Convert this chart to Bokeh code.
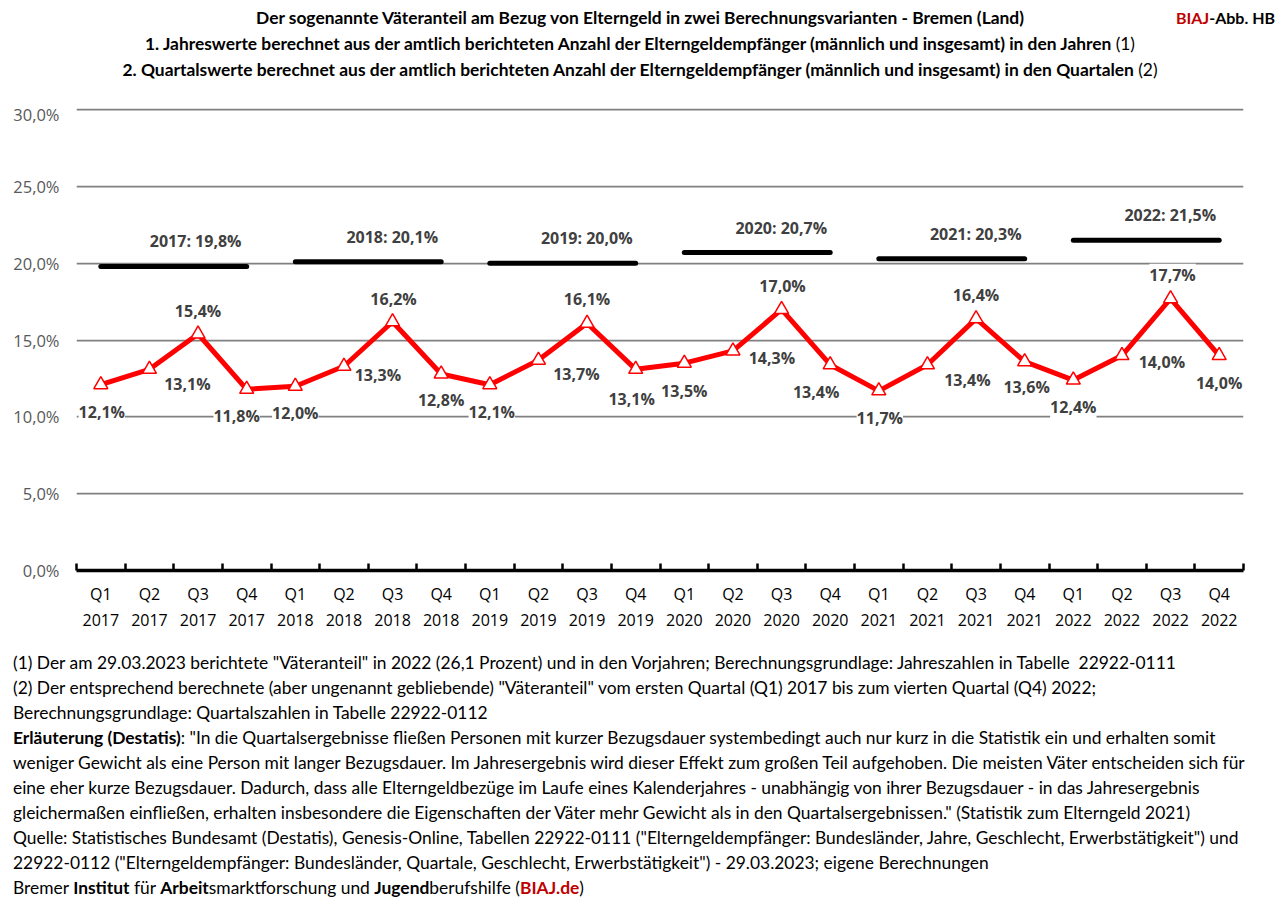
from bokeh.plotting import figure
from bokeh.models import ColumnDataSource, FixedTicker, LabelSet, Div, Range1d
from bokeh.core.properties import value
from bokeh.layouts import column
from bokeh.embed import file_html
from bokeh.resources import INLINE

# ---------------- data ----------------
quarters = ["Q1", "Q2", "Q3", "Q4"] * 6
quarter_years = [2017] * 4 + [2018] * 4 + [2019] * 4 + [2020] * 4 + [2021] * 4 + [2022] * 4
quarter_values = [12.1, 13.1, 15.4, 11.8,
                  12.0, 13.3, 16.2, 12.8,
                  12.1, 13.7, 16.1, 13.1,
                  13.5, 14.3, 17.0, 13.4,
                  11.7, 13.4, 16.4, 13.6,
                  12.4, 14.0, 17.7, 14.0]
years = [2017, 2018, 2019, 2020, 2021, 2022]
annual_values = [19.8, 20.1, 20.0, 20.7, 20.3, 21.5]
y_ticks = [0, 5, 10, 15, 20, 25, 30]

# label placement (screen pixels, style only)
label_dx = [1, 38, 0, -10, 0, 34, 1, 0, 2, 38, 0, -4, 0, 39, 1, -14, 1, 40, 0, 2, 0, 40, 2, 0]
label_dy = [-27, -15, 23, -27, -27, -9, 23, -26, -27, -14, 24, -30, -28, -7, 23, -27, -27, -15, 24, -25, -27, -6, 24, -27]
annual_sep = ["  ", " ", " ", " ", " ", " "]


def de(v):
    return f"{v:.1f}".replace(".", ",") + "%"


FONT = "Open Sans"
LABEL_COLOR = "#404040"

n = len(quarter_values)
xs = list(range(n))

p = figure(width=1270, height=537, output_backend="svg", toolbar_location=None,
           x_range=Range1d(-0.5, n - 0.5), y_range=Range1d(0, 30.15),
           min_border_left=76, min_border_right=27, min_border_top=5, min_border_bottom=69,
           title=None)
p.outline_line_color = None
p.background_fill_color = "white"
p.border_fill_color = "white"

# y axis / grid
p.yaxis.ticker = FixedTicker(ticks=y_ticks)
p.yaxis.major_label_overrides = {t: de(t) for t in y_ticks}
p.yaxis.axis_line_color = None
p.yaxis.major_tick_line_color = None
p.yaxis.minor_tick_line_color = None
p.yaxis.major_label_text_font = FONT
p.yaxis.major_label_text_font_size = "16.5px"
p.yaxis.major_label_text_color = "#595959"
p.yaxis.major_label_standoff = 11
p.ygrid.ticker = FixedTicker(ticks=y_ticks)
p.ygrid.grid_line_color = "#808080"
p.ygrid.grid_line_width = 1.75
p.xgrid.grid_line_color = None

# x axis
p.xaxis.ticker = FixedTicker(ticks=xs, minor_ticks=[i - 0.5 for i in range(n + 1)])
p.xaxis.major_label_overrides = {i: f"{quarters[i]}\n{quarter_years[i]}" for i in xs}
p.xaxis.axis_line_color = "black"
p.xaxis.axis_line_width = 3.5
p.xaxis.major_tick_line_color = None
p.xaxis.minor_tick_line_color = "black"
p.xaxis.minor_tick_line_width = 2.5
p.xaxis.minor_tick_in = 7
p.xaxis.minor_tick_out = 0
p.xaxis.major_label_text_font = FONT
p.xaxis.major_label_text_font_size = "16px"
p.xaxis.major_label_text_color = "black"
p.xaxis.major_label_standoff = 6

# annual segments
x0 = [quarter_years.index(y) for y in years]
x1 = [len(quarter_years) - 1 - quarter_years[::-1].index(y) for y in years]
ann_src = ColumnDataSource(dict(
    x0=x0, x1=x1, y=annual_values,
    xm=[(a + b) / 2 for a, b in zip(x0, x1)],
    text=[f"{y}:{s}{de(v)}" for y, s, v in zip(years, annual_sep, annual_values)],
))
p.segment(x0="x0", y0="y", x1="x1", y1="y", source=ann_src, line_color="black",
          line_width=5, line_cap="round")
p.add_layout(LabelSet(x="xm", y="y", text="text", source=ann_src, x_offset=24, y_offset=25,
                      text_align="center", text_baseline="middle", text_font=value(FONT),
                      text_font_style="bold", text_font_size="16px", text_color=LABEL_COLOR,
                      background_fill_color="white"))

# quarterly line
q_src = ColumnDataSource(dict(x=xs, y=quarter_values, text=[de(v) for v in quarter_values],
                              dx=label_dx, dy=label_dy))
p.line(x="x", y="y", source=q_src, line_color="#ff0000", line_width=5, line_join="round")
p.scatter(x="x", y="y", source=q_src, marker="triangle", size=14, fill_color="white",
          line_color="#ff0000", line_width=1.5)
p.add_layout(LabelSet(x="x", y="y", text="text", source=q_src, x_offset="dx", y_offset="dy",
                      text_align="center", text_baseline="middle", text_font=value(FONT),
                      text_font_style="bold", text_font_size="16px", text_color=LABEL_COLOR,
                      background_fill_color="white"))

# ---------------- texts ----------------
TS = "font-size:17.4px;line-height:22px;"
title_html = (
    '<div style="position:relative;width:1270px;height:92px;font-family:Lato;font-weight:bold;'
    'color:#000;">'
    f'<div style="position:absolute;left:0;top:2px;width:1270px;text-align:center;{TS}">'
    'Der sogenannte Väteranteil am Bezug von Elterngeld in zwei Berechnungsvarianten - Bremen (Land)</div>'
    f'<div style="position:absolute;left:0;top:28px;width:1270px;text-align:center;{TS}">'
    '1. Jahreswerte berechnet aus der amtlich berichteten Anzahl der Elterngeldempfänger (männlich und insgesamt) in den Jahren '
    '<span style="font-weight:normal">(1)</span></div>'
    f'<div style="position:absolute;left:0;top:54px;width:1270px;text-align:center;{TS}">'
    '2. Quartalswerte berechnet aus der amtlich berichteten Anzahl der Elterngeldempfänger (männlich und insgesamt) in den Quartalen '
    '<span style="font-weight:normal">(2)</span></div>'
    '<div style="position:absolute;right:0;top:2px;font-size:16px;line-height:22px;">'
    '<span style="color:#c00000">BIAJ</span>-Abb. HB</div>'
    '</div>'
)
title_div = Div(text=title_html, width=1270, height=92)

foot_lines = [
    '(1) Der am 29.03.2023 berichtete "Väteranteil" in 2022 (26,1 Prozent) und in den Vorjahren; Berechnungsgrundlage: Jahreszahlen in Tabelle&nbsp; 22922-0111',
    '(2) Der entsprechend berechnete (aber ungenannt gebliebende) "Väteranteil" vom ersten Quartal (Q1) 2017 bis zum vierten Quartal (Q4) 2022;',
    'Berechnungsgrundlage: Quartalszahlen in Tabelle 22922-0112',
    '<b>Erläuterung (Destatis)</b>: "In die Quartalsergebnisse fließen Personen mit kurzer Bezugsdauer systembedingt auch nur kurz in die Statistik ein und erhalten somit',
    'weniger Gewicht als eine Person mit langer Bezugsdauer. Im Jahresergebnis wird dieser Effekt zum großen Teil aufgehoben. Die meisten Väter entscheiden sich für',
    'eine eher kurze Bezugsdauer. Dadurch, dass alle Elterngeldbezüge im Laufe eines Kalenderjahres - unabhängig von ihrer Bezugsdauer - in das Jahresergebnis',
    'gleichermaßen einfließen, erhalten insbesondere die Eigenschaften der Väter mehr Gewicht als in den Quartalsergebnissen." (Statistik zum Elterngeld 2021)',
    'Quelle: Statistisches Bundesamt (Destatis), Genesis-Online, Tabellen 22922-0111 ("Elterngeldempfänger: Bundesländer, Jahre, Geschlecht, Erwerbstätigkeit") und',
    '22922-0112 ("Elterngeldempfänger: Bundesländer, Quartale, Geschlecht, Erwerbstätigkeit") - 29.03.2023; eigene Berechnungen',
    'Bremer <b>Institut</b> für <b>Arbeit</b>smarktforschung und <b>Jugend</b>berufshilfe (<b style="color:#c00000">BIAJ.de</b>)',
]
foot_html = (
    '<div style="width:1262px;padding:6px 0 0 8px;font-family:Lato;font-size:17.4px;line-height:25px;'
    'color:#000;white-space:nowrap;">' + "<br>".join(foot_lines) + '</div>'
)
foot_div = Div(text=foot_html, width=1270, height=255)

layout = column(title_div, p, foot_div, spacing=0)
open("out.html", "w").write(file_html(layout, INLINE))
